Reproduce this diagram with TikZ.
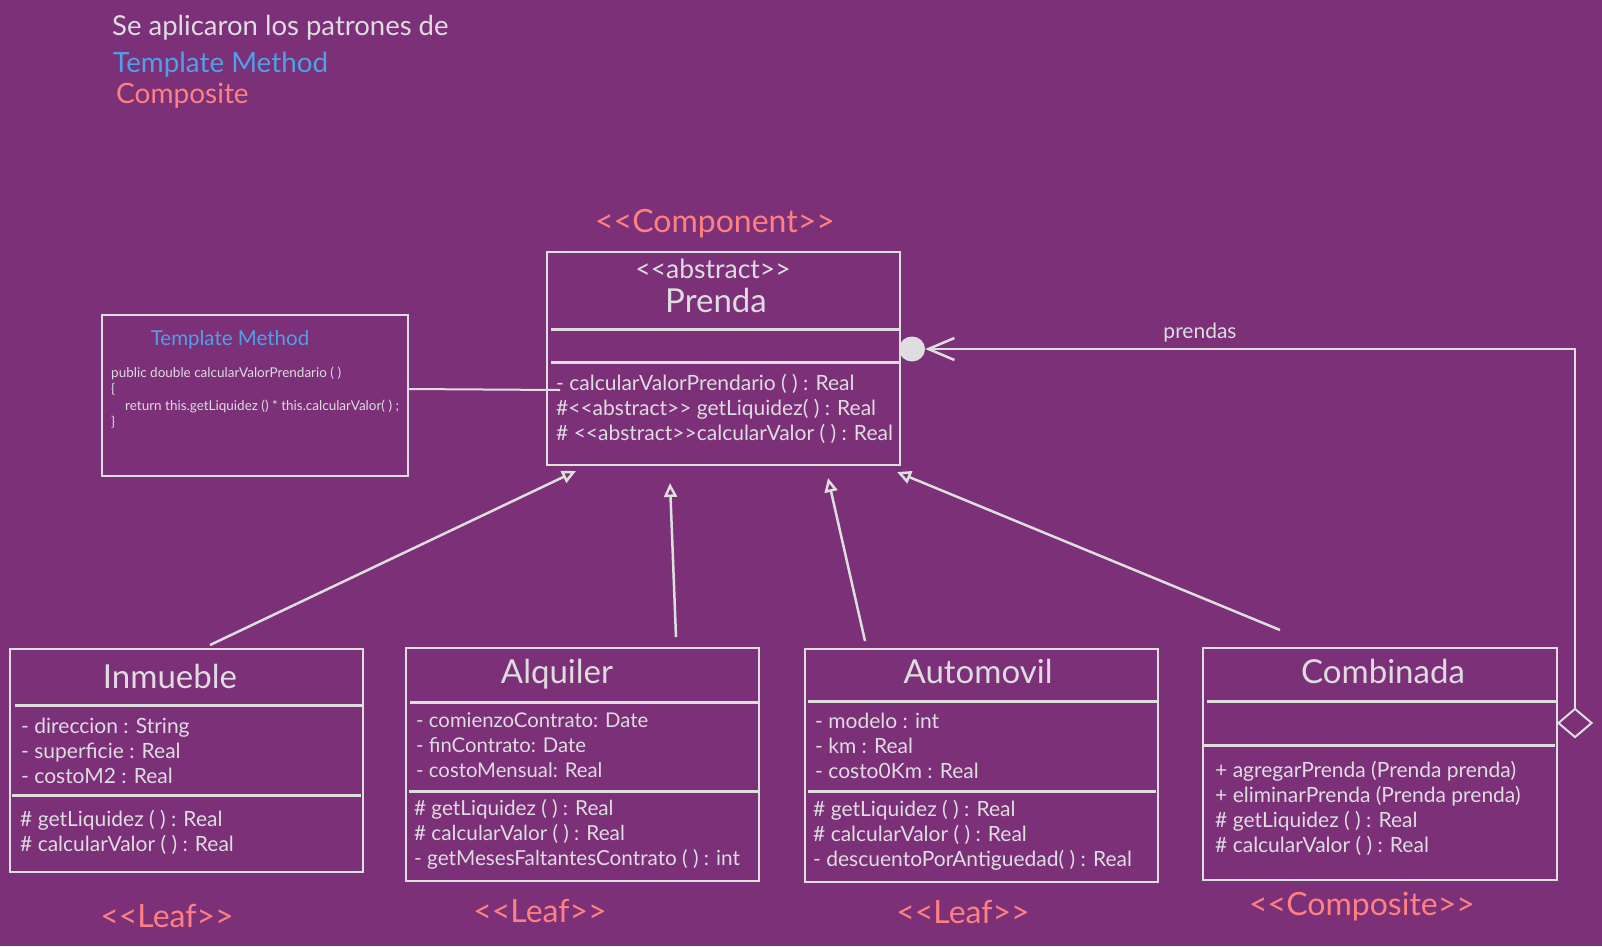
\documentclass[tikz,border=0pt]{standalone}
\usepackage{fontspec}
\setmainfont{Lato}
\usetikzlibrary{arrows.meta,shapes.geometric,fit,calc}
\definecolor{bg}{RGB}{123,48,120}
\definecolor{fg}{RGB}{222,220,224}
\definecolor{ln}{RGB}{222,222,222}
\definecolor{tmblue}{RGB}{78,161,233}
\definecolor{salmon}{RGB}{255,128,128}
\tikzset{
  box/.style={draw=ln, line width=2pt, inner sep=0pt},
  sep/.style={draw=ln, line width=3pt},
  txt/.style={text=fg, inner sep=0pt, font=\fontsize{21}{25}\selectfont},
  ttl/.style={text=fg, inner sep=0pt, font=\fontsize{33}{37}\selectfont},
  stereo/.style={text=salmon, inner sep=0pt, font=\fontsize{32}{36}\selectfont},
  code/.style={text=fg, inner sep=0pt, font=\fontsize{13.5}{16}\selectfont},
  inh/.style={draw=ln, line width=2.5pt, -{Triangle[open,length=14pt,width=13pt]}},
  conn/.style={draw=ln, line width=2.5pt},
}
\begin{document}
\begin{tikzpicture}[x=1pt,y=-1pt]
\fill[bg] (0,0) rectangle (1602,946);
\useasboundingbox (0,0) rectangle (1602,946);

% header
\node[txt, anchor=base west, font=\fontsize{27.5}{30}\selectfont] (h1) at (112,35) {Se aplicaron los patrones de};
\node[txt, anchor=base west, text=tmblue, font=\fontsize{27.8}{30}\selectfont] (h2) at (113,72) {Template Method};
\node[txt, anchor=base west, text=salmon, font=\fontsize{28}{30}\selectfont] (h3) at (116,103) {Composite};

% Prenda
\node[stereo, anchor=base] (comp) at (715,232) {{<}{<}Component{>}{>}};
\node[box, fit={(547,252) (900,465)}] (prenda) {};
\node[txt, anchor=base, font=\fontsize{26.5}{30}\selectfont] (pabs) at (713,278) {{<}{<}abstract{>}{>}};
\node[ttl, anchor=base] (pname) at (716,312) {Prenda};
\draw[sep] (551,329) -- (900,329);
\draw[sep] (551,362) -- (900,362);
\foreach \t [count=\i] in {- calcularValorPrendario ( ) : Real, \#{<}{<}abstract{>}{>} getLiquidez( ) : Real, \# {<}{<}abstract{>}{>}calcularValor ( ) : Real}
  \node[txt, anchor=base west] (pm\i) at (556,{390+25*(\i-1)}) {\t};

% Template method box
\node[box, fit={(102,315) (408,476)}] (tm) {};
\node[txt, anchor=base, text=tmblue, font=\fontsize{20.5}{24}\selectfont] (tmt) at (230,345) {Template Method};
\node[code, anchor=base west] (c1) at (111,377) {public double calcularValorPrendario ( )};
\node[code, anchor=base west] (c2) at (111,393) {\{};
\node[code, anchor=base west] (c3) at (125,410) {return this.getLiquidez () * this.calcularValor( ) ;};
\node[code, anchor=base west] (c4) at (111,426) {\}};
\coordinate (tmend) at (560,390);
\draw[conn, line width=2pt] (tm.east |- 0,389) -- (tmend);

% Inmueble
\node[box, fit={(10,649) (363,872)}] (inm) {};
\node[ttl, anchor=base] (inmt) at (170,688) {Inmueble};
\draw[sep] (15,705) -- (364,705);
\draw[sep] (12,795) -- (361,795);
\foreach \t [count=\i] in {- direccion : String, - superficie : Real, - costoM2 : Real}
  \node[txt, anchor=base west] (ia\i) at (21,{733+25*(\i-1)}) {\t};
\foreach \t [count=\i] in {\# getLiquidez ( ) : Real, \# calcularValor ( ) : Real}
  \node[txt, anchor=base west] (im\i) at (20,{826+25*(\i-1)}) {\t};
\node[stereo, anchor=base] (l1) at (167,927) {{<}{<}Leaf{>}{>}};

% Alquiler
\node[box, fit={(406,648) (759,881)}] (alq) {};
\node[ttl, anchor=base] (alqt) at (557,683) {Alquiler};
\draw[sep] (410,702) -- (760,702);
\draw[sep] (409,791) -- (758,791);
\foreach \t [count=\i] in {- comienzoContrato: Date, - finContrato: Date, - costoMensual: Real}
  \node[txt, anchor=base west, font=\fontsize{20.3}{25}\selectfont] (aa\i) at (416,{727+25*(\i-1)}) {\t};
\foreach \t [count=\i] in {\# getLiquidez ( ) : Real, \# calcularValor ( ) : Real, - getMesesFaltantesContrato ( ) : int}
  \node[txt, anchor=base west, font=\fontsize{20.7}{25}\selectfont] (am\i) at (414,{815+25*(\i-1)}) {\t};
\node[stereo, anchor=base] (l2) at (540,922) {{<}{<}Leaf{>}{>}};

% Automovil
\node[box, fit={(805,649) (1158,882)}] (aut) {};
\node[ttl, anchor=base] (autt) at (978,683) {Automovil};
\draw[sep] (808,701) -- (1158,701);
\draw[sep] (808,791) -- (1156,791);
\foreach \t [count=\i] in {- modelo : int, - km : Real, - costo0Km : Real}
  \node[txt, anchor=base west] (ua\i) at (815,{728+25*(\i-1)}) {\t};
\foreach \t [count=\i] in {\# getLiquidez ( ) : Real, \# calcularValor ( ) : Real, - descuentoPorAntiguedad( ) : Real}
  \node[txt, anchor=base west] (um\i) at (813,{816+25*(\i-1)}) {\t};
\node[stereo, anchor=base] (l3) at (963,923) {{<}{<}Leaf{>}{>}};

% Combinada
\node[box, fit={(1203,648) (1557,880)}] (cmb) {};
\node[ttl, anchor=base] (cmbt) at (1383,683) {Combinada};
\draw[sep] (1207,701) -- (1557,701);
\draw[sep] (1202,745) -- (1555,745);
\foreach \t [count=\i] in {+ agregarPrenda (Prenda prenda), + eliminarPrenda (Prenda prenda), \# getLiquidez ( ) : Real, \# calcularValor ( ) : Real}
  \node[txt, anchor=base west] (cm\i) at (1215,{777+25*(\i-1)}) {\t};
\node[stereo, anchor=base] (l4) at (1362,915) {{<}{<}Composite{>}{>}};

% inheritance
\coordinate (inmS) at (210,645);  \coordinate (inmE) at (576,471);
\coordinate (alqS) at (676,637);  \coordinate (alqE) at (670,483);
\coordinate (autS) at (865,641);  \coordinate (autE) at (828,478);
\coordinate (cmbS) at (1280,630); \coordinate (cmbE) at (897,472);
\draw[inh] (inmS) -- (inmE);
\draw[inh] (alqS) -- (alqE);
\draw[inh] (autS) -- (autE);
\draw[inh] (cmbS) -- (cmbE);

% aggregation
\node[draw=ln, line width=2pt, diamond, minimum width=34pt, minimum height=29pt, inner sep=0pt] (agg) at (1575,723) {};
\node[ellipse, fill=ln, minimum width=26pt, minimum height=25pt, inner sep=0pt] (ball) at (912,349) {};
\draw[conn, line width=2pt, -{Straight Barb[length=26pt,width=22pt,line width=2.5pt]}] (agg.north) |- (ball.east);
\node[txt, anchor=base, font=\fontsize{21}{24}\selectfont] (prl) at (1200,338) {prendas};
\end{tikzpicture}
\end{document}
